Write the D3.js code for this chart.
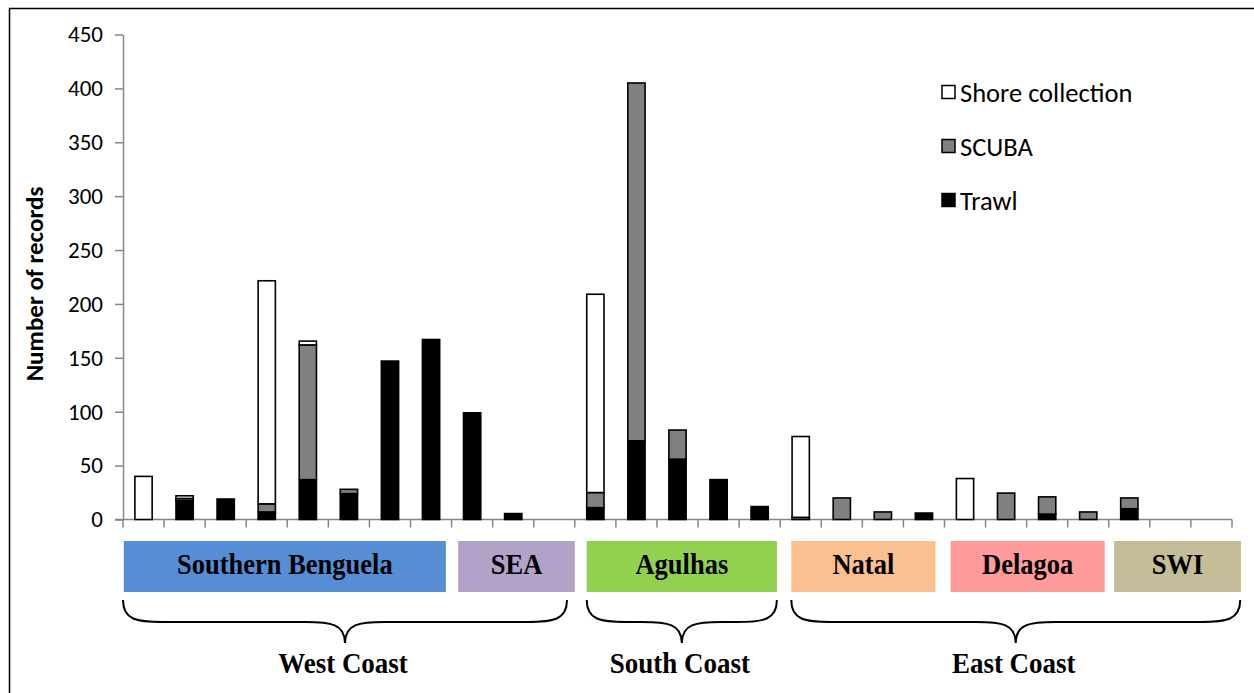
<!DOCTYPE html>
<html>
<head>
<meta charset="utf-8">
<script src="https://cdn.jsdelivr.net/npm/d3@7"></script>
<style>
  html, body { margin: 0; padding: 0; background: #fff; }
  svg { display: block; }
</style>
</head>
<body>
<svg id="chart" width="1254" height="693"></svg>
<script>
// ---------------- DATA ----------------
const categories = ["1","2","3","4","5","6","7","8","9","10","11","12","13","14","15","16","17","18","19","20","21","22","23","24","25","26","27"];
const shoreValues = [40, 2.5, 0, 207, 3.5, 0, 0, 0, 0, 0, 0, 184, 0, 0, 0, 0, 75, 0, 0, 0, 38, 0, 0, 0, 0, 0, 0];
const scubaValues = [0, 2, 0, 7.5, 125, 4, 0, 0, 0, 0, 0, 14, 332, 27, 0, 0, 2, 20, 7, 0, 0, 24.5, 16, 7, 10, 0, 0];
const trawlValues = [0, 17.5, 19, 7, 37, 24, 147, 167, 99, 5.5, 0, 11, 73, 56, 37, 12, 0, 0, 0, 6, 0, 0, 5, 0, 10, 0, 0];
const seriesNames = ["Trawl", "SCUBA", "Shore collection"];
const legendNames = ["Shore collection", "SCUBA", "Trawl"];
const yTickValues = [0, 50, 100, 150, 200, 250, 300, 350, 400, 450];
const yTitle = "Number of records";
const regionNames = ["Southern Benguela", "SEA", "Agulhas", "Natal", "Delagoa", "SWI"];
const coastNames = ["West Coast", "South Coast", "East Coast"];

// ---------------- LAYOUT / STYLE ----------------
const W = 1254, H = 693;
const plot = { left: 123, right: 1232, top: 34.5, bottom: 519.5 };
const colors = { "Shore collection": "#ffffff", "SCUBA": "#808080", "Trawl": "#000000" };
const axisColor = "#868686";
const labelFont = "Carlito, Calibri, Lato, 'Open Sans', sans-serif";
const serifFont = "'Liberation Serif', 'Times New Roman', serif";
// region boxes: span in category-slot units
const regionSpans = [[0.02, 7.86], [8.16, 11.0], [11.29, 15.92], [16.27, 19.78], [20.15, 23.9], [24.13, 27.22]];
const regionColors = ["#558ED5", "#B3A2C7", "#92D050", "#FAC090", "#FF9B9B", "#C4BD97"];
const coastSpans = [[0, 10.81], [11.29, 15.92], [16.27, 27.2]];

const svg = d3.select("#chart");
svg.append("rect").attr("width", W).attr("height", H).attr("fill", "#fff");

// outer frame (left and top edges visible)
svg.append("path").attr("d", `M9.5,${H} L9.5,8.5 L${W},8.5`).attr("fill", "none")
  .attr("stroke", "#000").attr("stroke-width", 1.5);

const x = d3.scaleBand().domain(categories).range([plot.left, plot.right]).padding(0);
const y = d3.scaleLinear().domain([0, 450]).range([plot.bottom, plot.top]);
const slot = d3.scaleLinear().domain([0, categories.length]).range([plot.left, plot.right]);

// stacked data
const table = categories.map((c, i) => ({
  cat: c, "Trawl": trawlValues[i], "SCUBA": scubaValues[i], "Shore collection": shoreValues[i]
}));
const stacked = d3.stack().keys(seriesNames)(table);

const barW = x.bandwidth() * 0.42;

// y axis
const yAxis = svg.append("g").attr("transform", `translate(${plot.left},0)`)
  .call(d3.axisLeft(y).tickValues(yTickValues).tickSize(8).tickSizeOuter(0).tickPadding(12));
yAxis.select(".domain").attr("stroke", axisColor).attr("stroke-width", 1.5);
yAxis.selectAll(".tick line").attr("stroke", axisColor).attr("stroke-width", 1.5);
yAxis.selectAll(".tick text").attr("font-family", labelFont).attr("font-size", 23).attr("fill", "#000");

// x axis (ticks at category boundaries)
const xAxisG = svg.append("g");
xAxisG.append("line").attr("x1", plot.left - 8).attr("x2", plot.right)
  .attr("y1", plot.bottom).attr("y2", plot.bottom).attr("stroke", axisColor).attr("stroke-width", 1.5);
const bounds = categories.map(c => x(c)).concat([x.range()[1]]);
xAxisG.selectAll("line.tick").data(bounds).join("line").attr("class", "tick")
  .attr("x1", d => d).attr("x2", d => d).attr("y1", plot.bottom).attr("y2", plot.bottom + 8)
  .attr("stroke", axisColor).attr("stroke-width", 1.5);

// bars
const layers = svg.append("g").selectAll("g").data(stacked).join("g")
  .attr("fill", d => colors[d.key]);
layers.selectAll("rect").data(d => d.filter(s => s[1] - s[0] > 0)).join("rect")
  .attr("x", d => x(d.data.cat) + (x.bandwidth() - barW) / 2)
  .attr("width", barW)
  .attr("y", d => y(d[1]))
  .attr("height", d => y(d[0]) - y(d[1]))
  .attr("stroke", "#000").attr("stroke-width", 1.6);

// y title
svg.append("text").attr("transform", `translate(43,284) rotate(-90)`)
  .attr("text-anchor", "middle").attr("font-family", labelFont).attr("font-weight", "bold")
  .attr("font-size", 25).text(yTitle);

// legend
const leg = svg.append("g");
legendNames.forEach((n, i) => {
  const cy = 92 + i * 54;
  leg.append("rect").attr("x", 942).attr("y", cy - 6.5).attr("width", 13).attr("height", 13)
    .attr("fill", colors[n]).attr("stroke", "#000").attr("stroke-width", 1.5);
  leg.append("text").attr("x", 960).attr("y", cy).attr("dy", "0.36em")
    .attr("font-family", labelFont).attr("font-size", 26.5).text(n);
});

// region boxes
regionNames.forEach((n, i) => {
  const x0 = slot(regionSpans[i][0]), x1 = slot(regionSpans[i][1]);
  svg.append("rect").attr("x", x0).attr("y", 541).attr("width", x1 - x0).attr("height", 51)
    .attr("fill", regionColors[i]);
  svg.append("text").attr("transform", `translate(${(x0 + x1) / 2},574) scale(1,1.1)`)
    .attr("text-anchor", "middle").attr("font-family", serifFont).attr("font-weight", "bold")
    .attr("font-size", 26.5).text(n);
});

// braces
function brace(x0, x1) {
  const xm = (x0 + x1) / 2, y0 = 600, y1 = 622, y2 = 643;
  return `M${x0},${y0} C${x0},${y1 - 2} ${x0 + 14},${y1} ${x0 + 40},${y1}` +
    ` L${xm - 40},${y1} C${xm - 14},${y1} ${xm},${y1 + 2} ${xm},${y2}` +
    ` C${xm},${y1 + 2} ${xm + 14},${y1} ${xm + 40},${y1}` +
    ` L${x1 - 40},${y1} C${x1 - 14},${y1} ${x1},${y1 - 2} ${x1},${y0}`;
}
coastNames.forEach((n, i) => {
  const x0 = slot(coastSpans[i][0]), x1 = slot(coastSpans[i][1]);
  svg.append("path").attr("d", brace(x0, x1)).attr("fill", "none")
    .attr("stroke", "#000").attr("stroke-width", 2);
  svg.append("text").attr("transform", `translate(${(x0 + x1) / 2 - 2},673) scale(1,1.1)`)
    .attr("text-anchor", "middle").attr("font-family", serifFont).attr("font-weight", "bold")
    .attr("font-size", 27).text(n);
});
</script>
</body>
</html>
